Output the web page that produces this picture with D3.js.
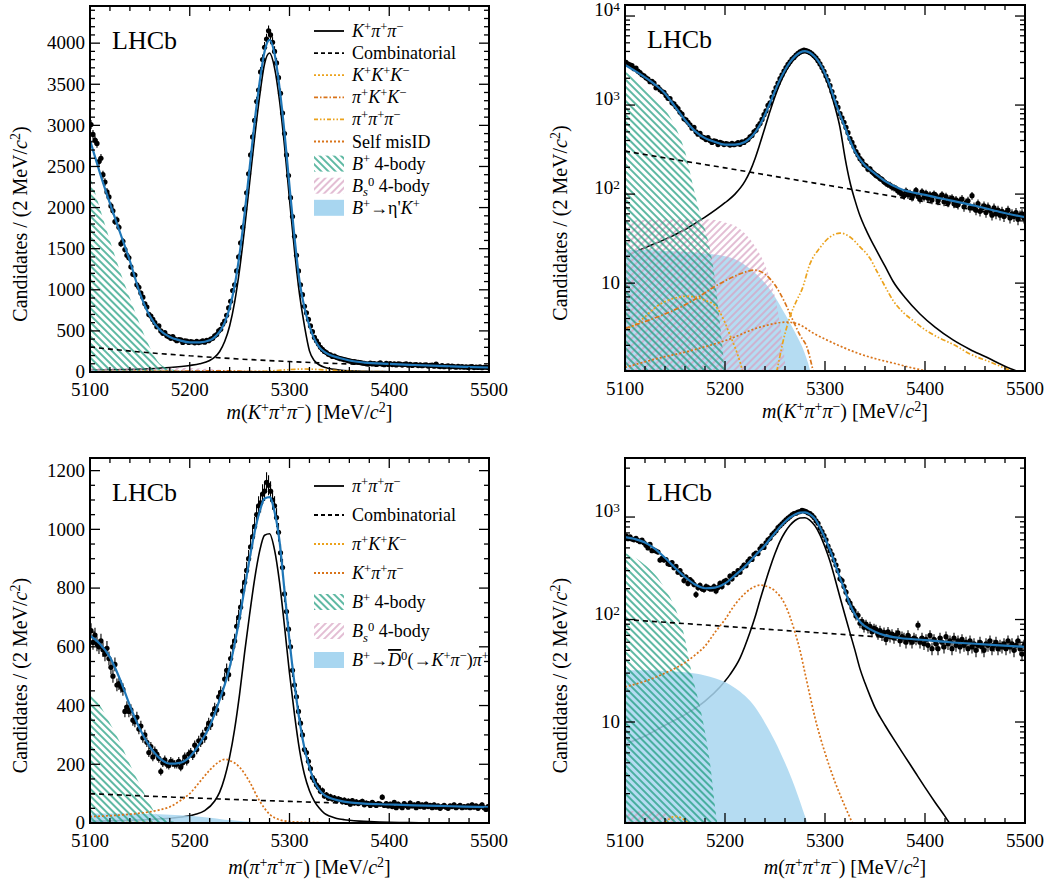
<!DOCTYPE html>
<html>
<head>
<meta charset="utf-8">
<script src="https://cdn.jsdelivr.net/npm/d3@7"></script>
<style>
body { margin: 0; background: #fff; }
svg text { font-family: "Liberation Serif", "Times New Roman", "DejaVu Serif", serif; fill: #000; }
</style>
</head>
<body>
<svg id="chart" width="1051" height="885"></svg>
<script>
// ---- data: B+ -> K+ pi+ pi- candidates (2 MeV bins from 5100 to 5500) ----
var binCentres = d3.range(5101, 5500, 2);

var kppData = [3010,2890,2820,2780,2560,2600,2400,2310,2190,2130,2020,1960,1830,1850,1760,1560,1590,1490,1420,1390,
  1280,1190,1180,1060,1030,960,910,830,790,700,680,640,600,550,560,500,470,480,440,430,
  410,430,400,380,395,390,360,380,375,360,
  370,365,355,372,358,366,378,362,385,380,400,410,440,455,500,520,580,620,690,780,
  860,990,1060,1230,1400,1570,1760,1980,2180,2410,2640,2860,3060,3290,3430,3650,3800,3950,4050,4150,
  4100,4010,3900,3760,3580,3390,3150,2900,2640,2390,
  2120,1890,1650,1420,1230,1060,940,800,720,640,560,490,420,380,340,300,275,250,236,215,
  208,190,192,178,170,162,158,150,146,138,132,128,126,120,118,115,108,105,100,96,
  108,98,102,92,100,110,94,88,106,92,
  102,90,98,86,100,96,84,92,98,82,94,80,88,90,78,86,76,84,88,72,
  80,84,70,96,72,66,78,64,70,74,62,72,66,58,70,60,66,58,64,56,
  62,66,54,60,56,62,52,58,60,54];

// fit components, [mass, candidates per bin]
var kppTotal = [[5100,2820],[5110,2420],[5120,2050],[5130,1700],[5140,1350],[5150,960],[5160,680],[5170,510],[5180,425],[5190,385],[5200,360],[5210,360],[5220,385],[5225,425],[5230,490],[5235,600],[5240,780],[5245,1050],[5250,1440],[5255,1930],[5260,2480],[5265,3040],[5270,3520],[5275,3900],[5280,4040],[5285,3870],[5290,3460],[5295,2910],[5300,2260],[5305,1640],[5310,1110],[5315,780],[5320,560],[5325,400],[5330,300],[5335,245],[5340,210],[5350,170],[5360,140],[5375,115],[5400,98],[5425,85],[5450,74],[5475,63],[5500,55]];
var kppSignal = [[5100,20],[5120,25],[5140,31],[5160,40],[5180,55],[5200,80],[5210,100],[5220,140],[5225,180],[5230,250],[5235,370],[5240,560],[5245,850],[5250,1250],[5255,1750],[5260,2300],[5265,2850],[5270,3350],[5275,3750],[5280,3880],[5285,3700],[5290,3300],[5295,2750],[5300,2100],[5305,1480],[5310,950],[5315,560],[5320,257],[5325,136],[5330,85],[5335,57],[5340,42],[5345,32],[5350,25],[5360,15.5],[5368,10.5],[5380,6.9],[5395,4.5],[5410,3.2],[5428,2.3],[5445,1.8],[5460,1.5],[5485,1.1],[5500,0.95]];
var kppComb = [[5100,304],[5150,244],[5200,197],[5250,158],[5300,127],[5350,102],[5400,82],[5450,66],[5500,53]];
var kppKKK = [[5100,3],[5110,3.4],[5120,4.2],[5130,5.3],[5140,6.2],[5150,6.8],[5160,7.1],[5170,7],[5180,6.4],[5190,5.6],[5200,3.6],[5205,2.6],[5210,1.9],[5215,1.3],[5220,0.8],[5225,0.4]];
var kppPiKK = [[5100,3.1],[5120,3.7],[5140,4.5],[5160,5.7],[5170,6.6],[5180,7.8],[5190,9.2],[5200,10.6],[5210,12],[5220,13.3],[5230,14],[5240,12.6],[5250,9.5],[5260,6],[5268,3.8],[5275,2.6],[5282,1.9],[5288,1.05],[5295,0.5]];
var kppPiPiPi = [[5245,0.5],[5252,1.05],[5258,2.2],[5265,4.2],[5272,6.5],[5277,8.5],[5285,16.5],[5295,25],[5305,33],[5315,36.5],[5325,33],[5335,25.5],[5345,19],[5352,13.5],[5360,9.2],[5368,6.4],[5378,4.7],[5388,3.8],[5400,3],[5412,2.5],[5430,2],[5445,1.6],[5465,1.3],[5485,1.05],[5500,0.9]];
var kppSelf = [[5100,1.13],[5130,1.4],[5168,1.77],[5202,2.3],[5235,3.2],[5262,3.65],[5275,3.4],[5288,2.75],[5300,2.35],[5318,1.9],[5335,1.6],[5352,1.4],[5370,1.25],[5385,1.13],[5402,1.03],[5420,0.95],[5450,0.85],[5500,0.75]];
var kppB4body = [[5100,2380],[5110,1990],[5120,1600],[5130,1230],[5140,900],[5150,580],[5160,300],[5170,100],[5175,60],[5180,40],[5185,24],[5190,11],[5195,3.5],[5200,0.9],[5205,0.1]];
var kppBs4body = [[5100,50],[5150,52],[5180,52],[5200,48],[5210,44],[5220,36],[5230,26],[5240,16],[5250,7],[5255,3.5],[5260,1.3],[5265,0.3]];
var kppEtaK = [[5100,23.5],[5120,23.5],[5140,23],[5160,22.5],[5180,21.5],[5200,20],[5210,18.5],[5220,16],[5230,13],[5240,10],[5250,7],[5260,4.5],[5270,2.8],[5280,1.6],[5285,1.05],[5290,0.5]];

// ---- data: B+ -> pi+ pi+ pi- candidates ----
var pppData = [655,615,640,610,600,620,590,575,595,560,530,500,540,470,475,465,455,380,395,380,
  385,350,345,360,320,330,290,300,275,240,260,225,245,235,220,175,205,215,200,196,
  210,205,200,200,210,190,205,225,210,235,
  240,230,265,250,280,275,300,290,320,340,335,370,390,385,430,445,440,490,520,505,
  560,600,620,670,700,735,790,820,860,900,940,975,1010,1050,1080,1090,1120,1130,1160,1150,
  1130,1100,1080,1040,990,920,870,780,720,660,
  600,520,470,430,380,340,300,250,240,210,185,155,145,130,122,108,110,92,96,84,
  90,82,86,76,82,80,72,78,70,75,64,76,68,72,66,70,74,62,68,66,
  60,70,64,60,66,64,88,60,66,58,
  64,56,70,52,64,58,52,66,60,54,68,58,62,52,66,56,62,54,64,56,
  60,52,62,54,58,50,56,60,54,50,58,56,62,52,56,60,52,56,54,58,
  52,62,54,58,50,56,62,52,46,56];

var pppTotal = [[5100,638],[5110,610],[5120,565],[5130,490],[5140,400],[5150,320],[5160,260],[5170,220],[5180,202],[5190,205],[5200,225],[5210,270],[5220,330],[5230,420],[5240,530],[5245,610],[5250,700],[5255,800],[5260,900],[5265,990],[5270,1060],[5275,1105],[5280,1110],[5285,1060],[5290,960],[5295,790],[5300,620],[5305,475],[5310,350],[5315,255],[5320,190],[5325,140],[5330,112],[5335,95],[5340,86],[5350,76],[5360,70],[5375,66],[5400,63],[5425,60],[5450,58],[5475,56],[5500,54]];
var pppSignal = [[5100,6.1],[5120,7.3],[5140,9.3],[5160,11.8],[5180,16],[5195,22],[5205,29],[5215,42],[5225,75],[5230,105],[5235,155],[5240,225],[5245,320],[5250,440],[5255,580],[5260,710],[5265,830],[5270,925],[5275,980],[5280,985],[5285,930],[5290,820],[5295,670],[5300,510],[5305,370],[5310,250],[5315,165],[5320,110],[5325,74],[5330,50],[5335,33],[5340,24],[5345,18],[5350,13.8],[5355,11.2],[5360,9.3],[5370,6.5],[5380,4.6],[5390,3.25],[5400,2.3],[5410,1.65],[5420,1.2],[5430,0.85]];
var pppComb = [[5100,100],[5150,92.6],[5200,85.8],[5250,79.4],[5300,73.5],[5350,68.1],[5400,63.1],[5450,58.4],[5500,54]];
var pppPiKK = [[5100,0.5],[5120,0.7],[5140,1.05],[5150,1.2],[5160,1.1],[5170,0.8],[5180,0.5],[5190,0.3]];
var pppKpipi = [[5100,22],[5120,25],[5140,30],[5160,38],[5170,45],[5180,55],[5190,75],[5200,100],[5210,140],[5220,180],[5230,210],[5235,217],[5240,213],[5250,190],[5260,140],[5270,75],[5275,50],[5280,30],[5285,18],[5290,11],[5300,5],[5310,2.6],[5320,1.5],[5330,0.9],[5340,0.5]];
var pppB4body = [[5100,445],[5110,400],[5120,340],[5130,275],[5140,200],[5150,130],[5160,65],[5165,36],[5170,22],[5175,14],[5180,8],[5185,4],[5190,1.5],[5195,0.6],[5200,0.1]];
var pppBs4body = [[5100,1.35],[5120,1.35],[5140,1.3],[5150,1.15],[5160,0.9],[5170,0.5],[5180,0.2]];
var pppD0pi = [[5100,32],[5120,32],[5140,31.5],[5160,30.5],[5180,28.5],[5200,24.5],[5210,21.5],[5220,18],[5230,14],[5240,9.8],[5250,6.5],[5260,4],[5270,2.3],[5280,1.2],[5285,0.85],[5290,0.5]];

// tick labels
var xTickLabels = ["5100", "5200", "5300", "5400", "5500"];

// colours
var cTotal = "#1f77b8", cGreen = "#1a9b7c", cPink = "#d7a2c2", cLight = "#a8d6f0";
var cOrangeY = "#eba21c", cOrangeD = "#d9741a";

var svg = d3.select("#chart");
var defs = svg.append("defs");

// hatch patterns
function hatch(id, colour, angle) {
	defs.append("pattern")
		.attr("id", id)
		.attr("patternUnits", "userSpaceOnUse")
		.attr("width", 5).attr("height", 5)
		.attr("patternTransform", "rotate(" + angle + ")")
		.append("line")
		.attr("x1", 1).attr("y1", 0).attr("x2", 1).attr("y2", 5)
		.attr("stroke", colour).attr("stroke-width", 1.4);
}
hatch("hG", cGreen, -45);
hatch("hP", cPink, 45);

// text with italics / superscripts
function rich(t, parts, fs, supK) {
	var cur = 0, k = supK || 0.34;
	parts.forEach(function(p) {
		var st = p[1] || "";
		var off = st.indexOf("sup") >= 0 ? -k * fs : (st.indexOf("sub") >= 0 ? 0.25 * fs : 0);
		var ts = t.append("tspan").text(p[0]).attr("dy", off - cur);
		cur = off;
		if (off !== 0) ts.style("font-size", (fs * 0.7) + "px");
		if (st.charAt(0) === "i") ts.style("font-style", "italic");
		if (st === "ov") ts.style("font-style", "italic").style("text-decoration", "overline");
	});
}

var yTitle = [["Candidates / (2 MeV/"], ["c", "i"], ["2", "sup"], [")"]];

function drawPanel(p) {
	var x = d3.scaleLinear().domain([5100, 5500]).range([p.x0, p.x1]);
	var y = (p.log ? d3.scaleLog() : d3.scaleLinear()).domain(p.ydom).range([p.y1, p.y0]);
	var fy = function(v) { return y(p.log ? Math.max(v, 0.02) : v); };

	var clipId = "clip" + p.id;
	defs.append("clipPath").attr("id", clipId).append("rect")
		.attr("x", p.x0).attr("y", p.y0).attr("width", p.x1 - p.x0).attr("height", p.y1 - p.y0);
	var g = svg.append("g").attr("clip-path", "url(#" + clipId + ")");

	var area = d3.area().x(function(d) { return x(d[0]); })
		.y0(p.y1).y1(function(d) { return fy(d[1]); }).curve(d3.curveMonotoneX);
	var line = d3.line().x(function(d) { return x(d[0]); })
		.y(function(d) { return fy(d[1]); }).curve(d3.curveMonotoneX);

	// signal below the filled shape
	g.append("path").attr("d", line(p.sig)).attr("fill", "none").attr("stroke", "#000").attr("stroke-width", 1.6);

	g.append("path").attr("d", area(p.fill)).attr("fill", cLight).attr("fill-opacity", 0.85);
	g.append("path").attr("d", area(p.bs)).attr("fill", "url(#hP)");
	g.append("path").attr("d", area(p.b4)).attr("fill", "url(#hG)");

	g.append("path").attr("d", line(p.comb)).attr("fill", "none").attr("stroke", "#000")
		.attr("stroke-width", 1.6).attr("stroke-dasharray", "5,4");
	p.others.forEach(function(o) {
		g.append("path").attr("d", line(o.d)).attr("fill", "none").attr("stroke", o.c)
			.attr("stroke-width", 1.7).attr("stroke-dasharray", o.dash);
	});

	// data points with Poisson errors
	var pts = g.append("g");
	p.data.forEach(function(v, i) {
		var m = binCentres[i], e = Math.sqrt(v);
		pts.append("line").attr("x1", x(m)).attr("x2", x(m))
			.attr("y1", fy(v - e)).attr("y2", fy(v + e)).attr("stroke", "#000").attr("stroke-width", 1.1);
		pts.append("circle").attr("cx", x(m)).attr("cy", fy(v)).attr("r", 2.6).attr("fill", "#000");
	});

	g.append("path").attr("d", line(p.total)).attr("fill", "none").attr("stroke", cTotal).attr("stroke-width", 2.2);

	// frame and ticks
	var ax = svg.append("g");
	ax.append("rect").attr("x", p.x0).attr("y", p.y0).attr("width", p.x1 - p.x0).attr("height", p.y1 - p.y0)
		.attr("fill", "none").attr("stroke", "#000").attr("stroke-width", 2);

	d3.range(5100, 5501, 20).forEach(function(m) {
		var len = (m % 100 === 0) ? 10 : 5;
		ax.append("line").attr("x1", x(m)).attr("x2", x(m)).attr("y1", p.y1).attr("y2", p.y1 - len)
			.attr("stroke", "#000").attr("stroke-width", 1.3);
		ax.append("line").attr("x1", x(m)).attr("x2", x(m)).attr("y1", p.y0).attr("y2", p.y0 + len)
			.attr("stroke", "#000").attr("stroke-width", 1.3);
	});
	xTickLabels.forEach(function(s) {
		ax.append("text").attr("x", x(+s)).attr("y", p.y1 + 24).attr("text-anchor", "middle")
			.style("font-size", "19px").text(s);
	});

	var yticks = [];
	if (p.log) {
		for (var k = 0; k <= 4; k++) {
			for (var j = 1; j <= 9; j++) {
				var v = j * Math.pow(10, k);
				if (v >= p.ydom[0] && v <= p.ydom[1]) yticks.push({v: v, major: j === 1, k: k});
			}
		}
	} else {
		d3.range(0, p.ydom[1], p.minor).forEach(function(v) {
			yticks.push({v: v, major: Math.round(v) % p.major === 0});
		});
	}
	yticks.forEach(function(t) {
		var len = t.major ? 10 : 5;
		ax.append("line").attr("x1", p.x0).attr("x2", p.x0 + len).attr("y1", y(t.v)).attr("y2", y(t.v))
			.attr("stroke", "#000").attr("stroke-width", 1.3);
		ax.append("line").attr("x1", p.x1).attr("x2", p.x1 - len).attr("y1", y(t.v)).attr("y2", y(t.v))
			.attr("stroke", "#000").attr("stroke-width", 1.3);
		if (!t.major) return;
		var lab = ax.append("text").attr("x", p.x0 - 5).attr("y", y(t.v)).attr("dy", "0.33em")
			.attr("text-anchor", "end").style("font-size", "19px");
		if (p.log) {
			if (t.k === 1) lab.text("10");
			else if (t.k > 1) rich(lab, [["10"], ["" + t.k, "sup"]], 19, 0.26);
		} else {
			lab.text(t.v);
		}
	});

	// axis titles
	var xt = svg.append("text").attr("x", (p.x0 + p.x1) / 2 + 20).attr("y", p.y1 + p.xTitleGap)
		.attr("text-anchor", "middle").style("font-size", "20px");
	rich(xt, p.xTitle, 20);
	var yt = svg.append("text")
		.attr("transform", "translate(" + (p.x0 - p.titleGap) + "," + ((p.y0 + p.y1) / 2 + 35) + ") rotate(-90)")
		.attr("text-anchor", "middle").style("font-size", "20px");
	rich(yt, yTitle, 20);

	svg.append("text").attr("x", p.x0 + 22).attr("y", p.y0 + 43).style("font-size", "26px").text("LHCb");
}

var xTitleK = [["m", "i"], ["("], ["K", "i"], ["+", "sup"], ["π", "i"], ["+", "sup"], ["π", "i"], ["−", "sup"], [") [MeV/"], ["c", "i"], ["2", "sup"], ["]"]];
var xTitleP = [["m", "i"], ["("], ["π", "i"], ["+", "sup"], ["π", "i"], ["+", "sup"], ["π", "i"], ["−", "sup"], [") [MeV/"], ["c", "i"], ["2", "sup"], ["]"]];

var kppOthers = [
	{d: kppKKK, c: cOrangeY, dash: "2,2"},
	{d: kppPiKK, c: cOrangeD, dash: "5,2,1.5,2"},
	{d: kppPiPiPi, c: cOrangeY, dash: "5,2,1.5,2,1.5,2"},
	{d: kppSelf, c: cOrangeD, dash: "2,2"}
];
var pppOthers = [
	{d: pppPiKK, c: cOrangeY, dash: "2,2"},
	{d: pppKpipi, c: cOrangeD, dash: "2,2"}
];

var kppSet = {total: kppTotal, sig: kppSignal, comb: kppComb, fill: kppEtaK, bs: kppBs4body, b4: kppB4body, others: kppOthers, data: kppData, xTitle: xTitleK, xTitleGap: 47};
var pppSet = {total: pppTotal, sig: pppSignal, comb: pppComb, fill: pppD0pi, bs: pppBs4body, b4: pppB4body, others: pppOthers, data: pppData, xTitle: xTitleP, xTitleGap: 51};

drawPanel(Object.assign({id: "tl", x0: 90, x1: 489, y0: 6, y1: 372, log: false, ydom: [0, 4452], major: 500, minor: 100, titleGap: 63}, kppSet));
drawPanel(Object.assign({id: "tr", x0: 625, x1: 1025, y0: 5, y1: 371, log: true, ydom: [1.03, 13300], titleGap: 58}, kppSet));
drawPanel(Object.assign({id: "bl", x0: 90, x1: 489, y0: 458, y1: 823, log: false, ydom: [0, 1243], major: 200, minor: 50, titleGap: 63}, pppSet));
drawPanel(Object.assign({id: "br", x0: 625, x1: 1025, y0: 458, y1: 823, log: true, ydom: [1.034, 3768], titleGap: 58}, pppSet));

// legends
function legend(x0, y0, step, items) {
	items.forEach(function(it, i) {
		var yy = y0 + i * step;
		if (it.fill) {
			svg.append("rect").attr("x", x0).attr("y", yy - 8).attr("width", 30).attr("height", 16).attr("fill", it.fill);
		} else {
			svg.append("line").attr("x1", x0).attr("x2", x0 + 30).attr("y1", yy).attr("y2", yy)
				.attr("stroke", it.c).attr("stroke-width", 1.8).attr("stroke-dasharray", it.dash);
		}
		var t = svg.append("text").attr("x", x0 + 38).attr("y", yy + 6).style("font-size", "18px");
		rich(t, it.label, 18);
	});
}

legend(314, 31, 22.1, [
	{c: "#000", dash: null, label: [["K", "i"], ["+", "sup"], ["π", "i"], ["+", "sup"], ["π", "i"], ["−", "sup"]]},
	{c: "#000", dash: "4,3", label: [["Combinatorial"]]},
	{c: cOrangeY, dash: "2,2", label: [["K", "i"], ["+", "sup"], ["K", "i"], ["+", "sup"], ["K", "i"], ["−", "sup"]]},
	{c: cOrangeD, dash: "4,2,1.5,2", label: [["π", "i"], ["+", "sup"], ["K", "i"], ["+", "sup"], ["K", "i"], ["−", "sup"]]},
	{c: cOrangeY, dash: "4,2,1.5,2,1.5,2", label: [["π", "i"], ["+", "sup"], ["π", "i"], ["+", "sup"], ["π", "i"], ["−", "sup"]]},
	{c: cOrangeD, dash: "2,2", label: [["Self misID"]]},
	{fill: "url(#hG)", label: [["B", "i"], ["+", "sup"], [" 4-body"]]},
	{fill: "url(#hP)", label: [["B", "i"], ["s", "isub"], ["0", "sup"], [" 4-body"]]},
	{fill: cLight, label: [["B", "i"], ["+", "sup"], ["→η'"], ["K", "i"], ["+", "sup"]]}
]);

legend(314, 486, 29, [
	{c: "#000", dash: null, label: [["π", "i"], ["+", "sup"], ["π", "i"], ["+", "sup"], ["π", "i"], ["−", "sup"]]},
	{c: "#000", dash: "4,3", label: [["Combinatorial"]]},
	{c: cOrangeY, dash: "2,2", label: [["π", "i"], ["+", "sup"], ["K", "i"], ["+", "sup"], ["K", "i"], ["−", "sup"]]},
	{c: cOrangeD, dash: "2,2", label: [["K", "i"], ["+", "sup"], ["π", "i"], ["+", "sup"], ["π", "i"], ["−", "sup"]]},
	{fill: "url(#hG)", label: [["B", "i"], ["+", "sup"], [" 4-body"]]},
	{fill: "url(#hP)", label: [["B", "i"], ["s", "isub"], ["0", "sup"], [" 4-body"]]},
	{fill: cLight, label: [["B", "i"], ["+", "sup"], ["→"], ["D", "ov"], ["0", "sup"], ["(→"], ["K", "i"], ["+", "sup"], ["π", "i"], ["−", "sup"], [")"], ["π", "i"], ["+", "sup"]]}
]);
</script>
</body>
</html>
